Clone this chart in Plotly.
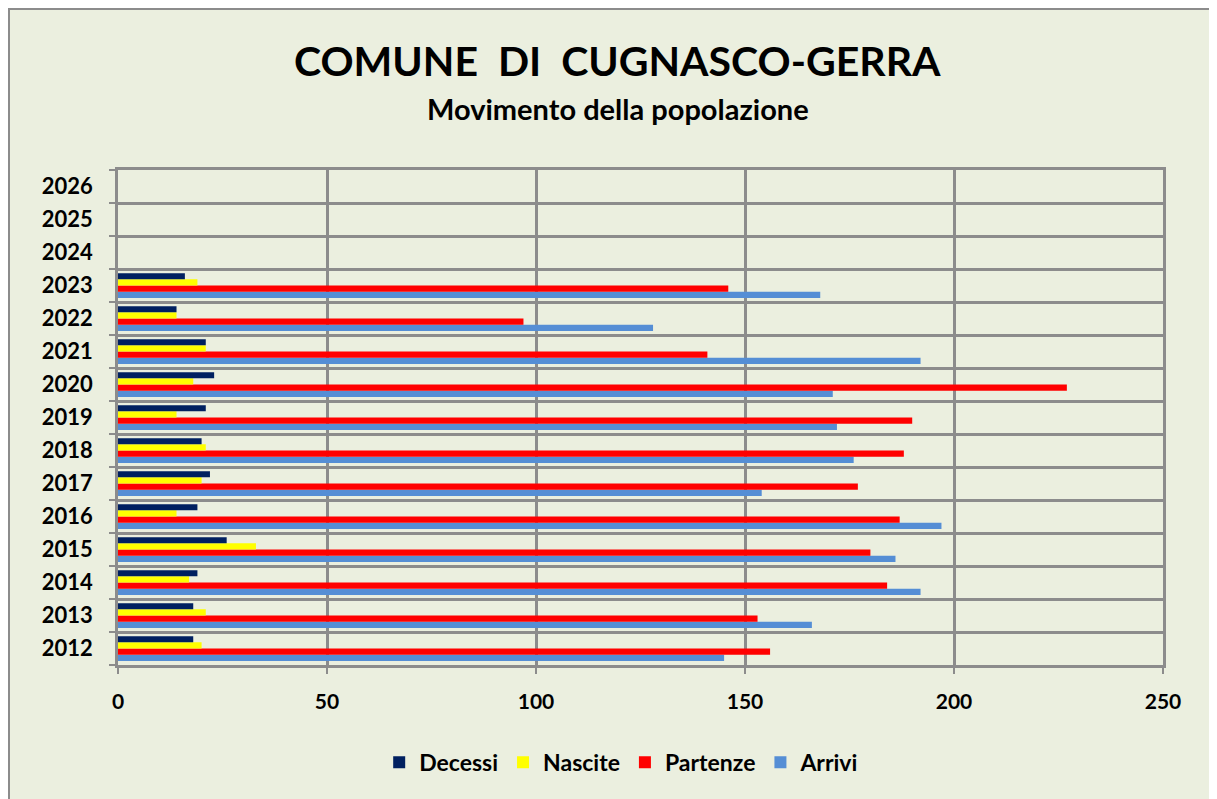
import plotly.graph_objects as go

years = [str(y) for y in range(2012, 2027)]
decessi = [18, 18, 19, 26, 19, 22, 20, 21, 23, 21, 14, 16, None, None, None]
nascite = [20, 21, 17, 33, 14, 20, 21, 14, 18, 21, 14, 19, None, None, None]
partenze = [156, 153, 184, 180, 187, 177, 188, 190, 227, 141, 97, 146, None, None, None]
arrivi = [145, 166, 192, 186, 197, 154, 176, 172, 171, 192, 128, 168, None, None, None]

series_names = ["Decessi", "Nascite", "Partenze", "Arrivi"]
series_vals = [decessi, nascite, partenze, arrivi]
colors = ["#002060", "#FFFF00", "#FF0000", "#558ED5"]
x_ticks = [0, 50, 100, 150, 200, 250]

FONT = "Lato"
BG = "#EBEFDF"
W, H = 1209, 791
ML, MR, MT, MB = 110, 54, 162, 134
PW, PH = W - ML - MR, H - MT - MB

fig = go.Figure()
# plotly stacks grouped horizontal bars bottom-up, so add in reverse order
for name, vals, col in reversed(list(zip(series_names, series_vals, colors))):
    fig.add_trace(go.Bar(
        y=years, x=vals, name=name, orientation="h",
        marker=dict(color=col, line=dict(width=0)),
    ))

fig.update_layout(
    width=W, height=H,
    paper_bgcolor=BG, plot_bgcolor=BG,
    margin=dict(l=ML, r=MR, t=MT, b=MB, autoexpand=False),
    barmode="group", bargap=0.25, bargroupgap=0,
    font=dict(family=FONT, color="black"),
    showlegend=True,
    legend=dict(orientation="h", traceorder="reversed",
                x=0.482, xanchor="center", y=-0.153, yanchor="top",
                font=dict(size=23, family=FONT, weight="bold"),
                bgcolor="rgba(0,0,0,0)", itemwidth=30),
    xaxis=dict(range=[0, 250], tickvals=x_ticks, showgrid=True,
               gridcolor="#8C8C8C", gridwidth=2.5,
               showline=True, linecolor="#8C8C8C", linewidth=2.5, mirror=True,
               ticks="outside", ticklen=6, tickcolor="#8C8C8C", tickwidth=2,
               ticklabelstandoff=10, zeroline=False,
               tickfont=dict(size=21, family=FONT, weight="bold")),
    yaxis=dict(type="category", categoryorder="array", categoryarray=years,
               tickson="boundaries", showgrid=True,
               gridcolor="#8C8C8C", gridwidth=2.5,
               showline=True, linecolor="#8C8C8C", linewidth=2.5, mirror=True,
               ticks="outside", ticklen=6, tickcolor="#8C8C8C", tickwidth=2,
               ticklabelstandoff=18,
               tickfont=dict(size=22, family=FONT, weight="bold")),
    annotations=[
        dict(text="COMUNE&nbsp;&nbsp;DI&nbsp;&nbsp;CUGNASCO-GERRA", xref="paper", yref="paper",
             x=0.478, y=1.0, yshift=110, xanchor="center", yanchor="middle", showarrow=False,
             font=dict(size=41, family=FONT, weight="bold", color="black")),
        dict(text="Movimento della popolazione", xref="paper", yref="paper",
             x=0.478, y=1.0, yshift=62, xanchor="center", yanchor="middle", showarrow=False,
             font=dict(size=29, family=FONT, weight="bold", color="black")),
    ],
    shapes=[
        dict(type="line", xref="paper", yref="paper",
             x0=-(ML - 1) / PW, x1=-(ML - 1) / PW, y0=-MB / PH, y1=1 + MT / PH,
             line=dict(color="#8C8C8C", width=2)),
        dict(type="line", xref="paper", yref="paper",
             x0=-ML / PW, x1=1 + MR / PW, y0=1 + (MT - 1) / PH, y1=1 + (MT - 1) / PH,
             line=dict(color="#8C8C8C", width=2)),
    ],
)

fig.write_html("out.html")
